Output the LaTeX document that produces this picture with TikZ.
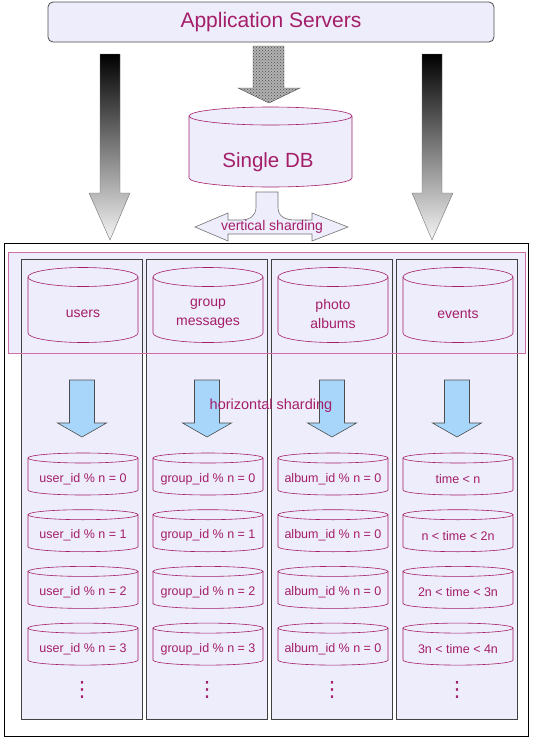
\documentclass[tikz,border=0pt]{standalone}
\usepackage{fontspec}
\setmainfont{Liberation Sans}
\newfontfamily\symfont{DejaVu Sans}
\usetikzlibrary{patterns}

\definecolor{dbpink}{RGB}{165,30,105}
\definecolor{bandpink}{RGB}{205,110,165}
\definecolor{lav}{RGB}{237,237,251}
\definecolor{skyblue}{RGB}{168,214,250}

% database drum: centre x, top y, bottom y, x radius, y radius
\newcommand{\dbcyl}[5]{%
  \fill[lav] (#1-#4,#2) -- (#1-#4,#3) arc[start angle=180,end angle=0,x radius=#4,y radius=#5]
    -- (#1+#4,#2) arc[start angle=0,end angle=-180,x radius=#4,y radius=#5] -- cycle;
  \draw[dbpink,line width=0.6pt] (#1,#2) ellipse[x radius=#4,y radius=#5];
  \draw[dbpink,line width=0.6pt] (#1-#4,#2) -- (#1-#4,#3)
    arc[start angle=180,end angle=0,x radius=#4,y radius=#5] -- (#1+#4,#2);
}

\begin{document}
\begin{tikzpicture}[x=1pt,y=-1pt,
  lbl/.style={text=dbpink, inner sep=0pt, align=center},
  appbox/.style={draw=black!70, fill=lav, rounded corners=5pt, line width=0.8pt,
    minimum width=446pt, minimum height=40pt, text=dbpink, font=\fontsize{21}{24}\selectfont},
  colbox/.style={fill=lav, draw=black!75, line width=0.8pt},
  grayarrow/.style={draw=black!55, top color=black, bottom color=black!4},
  bluearrow/.style={fill=skyblue, draw=black!70, line width=0.6pt},
  rowfont/.style={font=\fontsize{12.5}{14}\selectfont}]
\useasboundingbox (0,0) rectangle (536,745);

\node[appbox] (app) at (271,22) {Application Servers};

\draw[grayarrow] (100,54) -- (120,54) -- (120,193) -- (130,193) -- (110,240) -- (89,193) -- (100,193) -- cycle;
\draw[grayarrow] (422,54) -- (442,54) -- (442,193) -- (453,193) -- (432,240) -- (412,193) -- (422,193) -- cycle;
\fill[black!30] (253,46) -- (284,46) -- (284,88) -- (300,88) -- (269,103) -- (238,88) -- (253,88) -- cycle;
\draw[pattern=crosshatch dots, pattern color=black!70, draw=black!70]
  (253,46) -- (284,46) -- (284,88) -- (300,88) -- (269,103) -- (238,88) -- (253,88) -- cycle;

\dbcyl{270.5}{116}{178}{81.5}{9}
\node[lbl, font=\fontsize{20.5}{24}\selectfont] (single) at (268,162) {Single DB};

\draw[fill=lav, draw=black!55, line width=0.6pt] (256,192) -- (278,192) -- (278,207)
  .. controls (278,216) and (284,220) .. (296,220) -- (312,220) -- (312,213) -- (348,227)
  -- (312,241) -- (312,234) -- (228,234) -- (228,241) -- (195,227) -- (228,213) -- (228,220)
  -- (240,220) .. controls (250,220) and (256,216) .. (256,207) -- cycle;
\node[lbl, font=\fontsize{14}{16}\selectfont] (vert) at (272,227) {vertical sharding};

\draw[black, line width=0.8pt, fill=white] (4,243) rectangle (528,736);
\fill[lav] (8,252) rectangle (525,353);
\foreach \cx in {83,208,333,458}
  \draw[colbox] (\cx-62,259) rectangle (\cx+59,719);
\draw[bandpink, line width=0.8pt] (8,252) rectangle (525,353);

\foreach \cx/\tname [count=\i] in {83/users, 208/{group\\messages}, 333/{photo\\albums}, 458/events} {
  \dbcyl{\cx}{277}{333}{55}{9.5}
  \node[lbl, font=\fontsize{14}{19}\selectfont] (top\i) at (\cx,314) {\tname};
  \draw[bluearrow] (\cx-13.5,380) -- (\cx+11.5,380) -- (\cx+11.5,423) -- (\cx+23.5,423)
    -- (\cx-1,437) -- (\cx-25.5,423) -- (\cx-13.5,423) -- cycle;
  \node[lbl, font=\symfont\fontsize{21}{24}\selectfont] (dots\i) at (\cx-1,690) {⋮};
}
\node[lbl, font=\fontsize{14.5}{16}\selectfont] (horiz) at (271,406) {horizontal sharding};

\foreach \cx/\ta/\tb/\tc/\td [count=\i] in {
  83/{user\_id \% n = 0}/{user\_id \% n = 1}/{user\_id \% n = 2}/{user\_id \% n = 3},
  208/{group\_id \% n = 0}/{group\_id \% n = 1}/{group\_id \% n = 2}/{group\_id \% n = 3},
  333/{album\_id \% n = 0}/{album\_id \% n = 0}/{album\_id \% n = 0}/{album\_id \% n = 0},
  458/{time < n}/{n < time < 2n}/{2n < time < 3n}/{3n < time < 4n}} {
  \foreach \k/\txt in {0/\ta, 1/\tb, 2/\tc, 3/\td} {
    \pgfmathsetmacro{\ty}{458+56.7*\k}
    \dbcyl{\cx}{\ty}{\ty+32}{55}{5}
    \node[lbl, rowfont] (sh\i\k) at (\cx,\ty+21) {\txt};
  }
}
\end{tikzpicture}
\end{document}
